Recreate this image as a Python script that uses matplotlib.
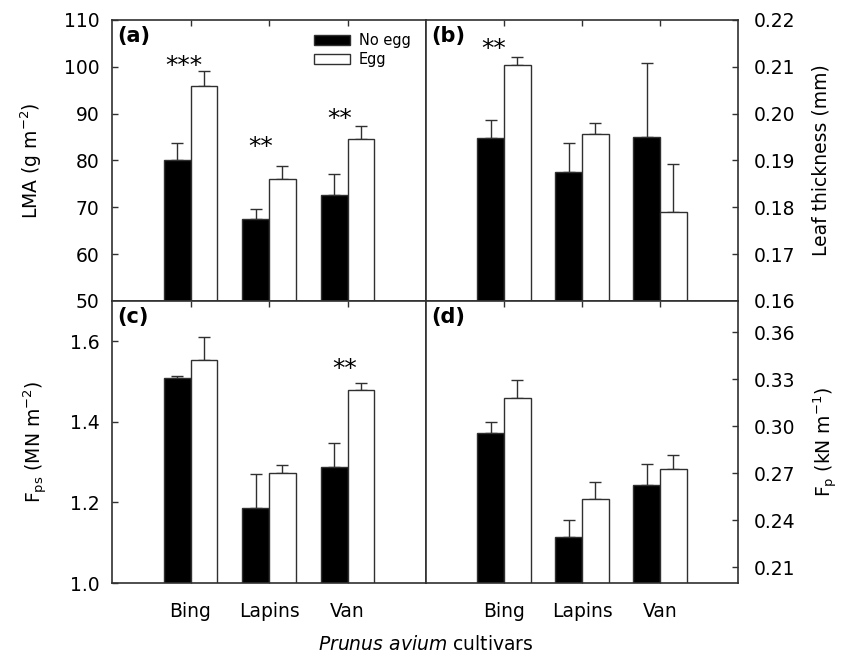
import numpy as np
import matplotlib
matplotlib.use('Agg')
import matplotlib.pyplot as plt
from matplotlib.patches import Patch

plt.rcParams['font.family'] = ['DejaVu Sans']
plt.rcParams['mathtext.fontset'] = 'dejavusans'

cultivars = ['Bing', 'Lapins', 'Van']

# (a) LMA (g m-2)
lma_noegg = [80.1, 67.5, 72.6]
lma_noegg_se = [3.6, 2.2, 4.6]
lma_egg = [95.9, 76.1, 84.5]
lma_egg_se = [3.2, 2.7, 2.9]

# (b) leaf thickness (mm)
thick_noegg = [0.1948, 0.1876, 0.1951]
thick_noegg_se = [0.0039, 0.0061, 0.0158]
thick_egg = [0.2103, 0.1956, 0.1790]
thick_egg_se = [0.0018, 0.0025, 0.0102]

# (c) Fps (MN m-2)
fps_noegg = [1.508, 1.187, 1.287]
fps_noegg_se = [0.005, 0.083, 0.061]
fps_egg = [1.554, 1.274, 1.478]
fps_egg_se = [0.056, 0.018, 0.018]

# (d) Fp (kN m-1)
fp_noegg = [0.2955, 0.2295, 0.2627]
fp_noegg_se = [0.0074, 0.0109, 0.0132]
fp_egg = [0.3178, 0.2534, 0.2725]
fp_egg_se = [0.0117, 0.0112, 0.0093]

x = np.arange(1, 4)
w = 0.34
edge = '#303030'
fs = 13.5

fig = plt.figure(figsize=(8.52, 6.57), dpi=100)
ax_a = fig.add_axes([0.1315, 0.5419, 0.3685, 0.4277])
ax_b = fig.add_axes([0.5, 0.5419, 0.3662, 0.4277])
ax_c = fig.add_axes([0.1315, 0.1126, 0.3685, 0.4293])
ax_d = fig.add_axes([0.5, 0.1126, 0.3662, 0.4293])

panels = [
    (ax_a, lma_noegg, lma_noegg_se, lma_egg, lma_egg_se, (50, 110), np.arange(50, 111, 10), '%d'),
    (ax_b, thick_noegg, thick_noegg_se, thick_egg, thick_egg_se, (0.16, 0.22), np.arange(0.16, 0.2201, 0.01), '%.2f'),
    (ax_c, fps_noegg, fps_noegg_se, fps_egg, fps_egg_se, (1.0, 1.7), np.arange(1.0, 1.61, 0.2), '%.1f'),
    (ax_d, fp_noegg, fp_noegg_se, fp_egg, fp_egg_se, (0.2, 0.38), np.arange(0.21, 0.3601, 0.03), '%.2f'),
]

for ax, n, nse, e, ese, lim, ticks, fmt in panels:
    ax.bar(x - w / 2, n, w, color='black', edgecolor=edge, linewidth=1, zorder=2)
    ax.bar(x + w / 2, e, w, color='white', edgecolor=edge, linewidth=1, zorder=2)
    ax.errorbar(x - w / 2, n, yerr=[np.zeros(3), nse], fmt='none', ecolor=edge,
                elinewidth=1, capsize=4, capthick=1, zorder=1)
    ax.errorbar(x + w / 2, e, yerr=[np.zeros(3), ese], fmt='none', ecolor=edge,
                elinewidth=1, capsize=4, capthick=1, zorder=1)
    ax.set_xlim(0, 4)
    ax.set_ylim(*lim)
    ax.set_yticks(ticks)
    ax.set_yticklabels([fmt % t for t in ticks], fontsize=fs)
    ax.set_xticks(x)
    ax.tick_params(direction='in', length=4, width=1, color=edge, top=True, bottom=True)
    ax.tick_params(axis='y', pad=9)
    for s in ax.spines.values():
        s.set_color(edge)
        s.set_linewidth(1.2)

for ax in (ax_a, ax_b):
    ax.set_xticklabels([])
for ax in (ax_c, ax_d):
    ax.set_xticklabels(cultivars, fontsize=fs)
    ax.tick_params(axis='x', pad=14)

for ax in (ax_b, ax_d):
    ax.yaxis.tick_right()
    ax.yaxis.set_label_position('right')
    ax.tick_params(axis='y', direction='in', left=False, right=True, pad=11)

ax_a.set_ylabel('LMA (g m$^{-2}$)', fontsize=fs, labelpad=14)
ax_c.set_ylabel('F$_\\mathrm{ps}$ (MN m$^{-2}$)', fontsize=fs, labelpad=14)
ax_b.set_ylabel('Leaf thickness (mm)', fontsize=fs, labelpad=12)
ax_d.set_ylabel('F$_\\mathrm{p}$ (kN m$^{-1}$)', fontsize=fs, labelpad=12)

for ax, lab in zip((ax_a, ax_b, ax_c, ax_d), ('(a)', '(b)', '(c)', '(d)')):
    ax.text(0.018, 0.98, lab, transform=ax.transAxes, fontsize=15,
            fontweight='bold', va='top', ha='left')

star_kw = dict(fontsize=18, ha='center', va='center')
ax_a.text(0.917, 100.2, '***', **star_kw)
ax_a.text(1.898, 82.8, '**', **star_kw)
ax_a.text(2.904, 88.8, '**', **star_kw)
ax_b.text(0.872, 0.2137, '**', **star_kw)
ax_c.text(2.968, 1.530, '**', **star_kw)

handles = [Patch(facecolor='black', edgecolor=edge, label='No egg'),
           Patch(facecolor='white', edgecolor=edge, label='Egg')]
ax_a.legend(handles=handles, loc='upper left', bbox_to_anchor=(0.6, 1.0),
            frameon=False, fontsize=10.5, handlelength=2.5, handleheight=0.7,
            labelspacing=0.3, handletextpad=0.6)

fig.text(0.5, 0.005, '$\\it{Prunus\\ avium}$ cultivars', fontsize=fs,
         ha='center', va='bottom')

fig.savefig('out.png', dpi=100)
